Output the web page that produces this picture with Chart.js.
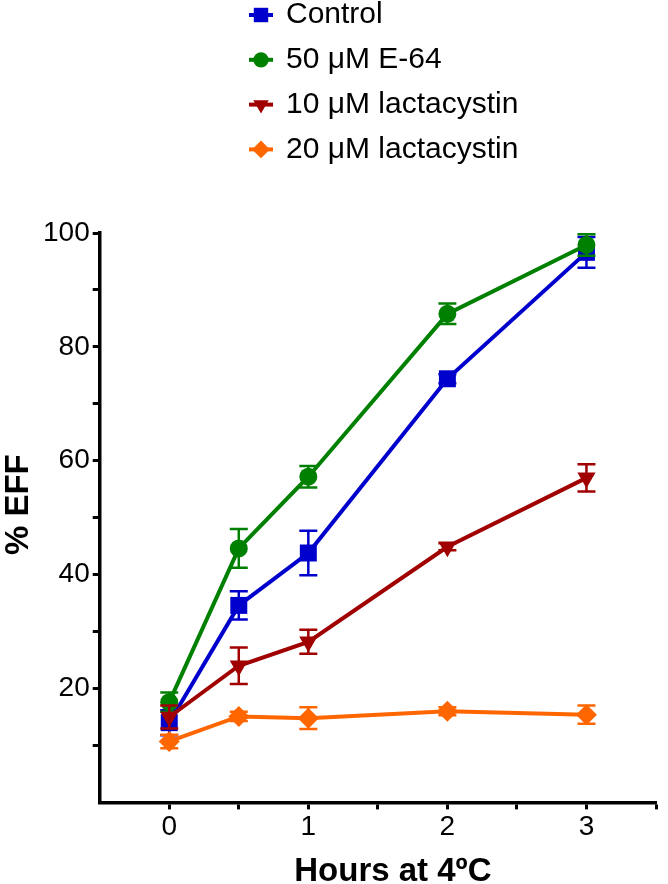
<!DOCTYPE html>
<html>
<head>
<meta charset="utf-8">
<title>% EFF vs hours at 4ºC</title>
<script src="https://cdn.jsdelivr.net/npm/chart.js"></script>
<style>
  html, body { margin: 0; padding: 0; background: #fff; }
  #wrap { position: relative; width: 668px; height: 884px; }
</style>
</head>
<body>
<div id="wrap"><canvas id="chart"></canvas></div>
<script>
// values (mean ± error)
const hours = [0, 0.5, 1, 2, 3];

const seriesNames = ['Control', '50 μM E-64', '10 μM lactacystin', '20 μM lactacystin'];

const control    = [14.0, 34.6, 43.8, 74.4, 96.6];
const controlErr = [2.2, 2.5, 3.9, 0.8, 2.7];

const e64    = [17.6, 44.6, 57.2, 85.8, 97.9];
const e64Err = [1.7, 3.4, 1.9, 1.8, 1.9];

const lac10    = [15.0, 24.0, 28.2, 44.9, 57.0];
const lac10Err = [2.0, 3.2, 2.1, 0.6, 2.4];

const lac20    = [10.7, 15.1, 14.8, 16.0, 15.4];
const lac20Err = [1.2, 0.8, 1.9, 0.7, 1.6];

const xTicks = [0, 1, 2, 3];
const yTicks = [20, 40, 60, 80, 100];

const xTitle = 'Hours at 4ºC';
const yTitle = '% EFF';

const colors = ['#0000cc', '#008000', '#a00000', '#ff6600'];
const shapes = ['rect', 'circle', 'triangle', 'rectRot'];
const radii = [12, 9, 10.5, 10.5];
const rotations = [0, 0, 180, 0];

const values = [control, e64, lac10, lac20];
const errors = [controlErr, e64Err, lac10Err, lac20Err];

const FONT = '"Liberation Sans", Arial, Helvetica, sans-serif';

const datasets = values.map((vals, i) => ({
  label: seriesNames[i],
  data: hours.map((h, j) => ({ x: h, y: vals[j] })),
  borderColor: colors[i],
  backgroundColor: colors[i],
  borderWidth: 4,
  pointStyle: shapes[i],
  pointRadius: radii[i],
  pointRotation: rotations[i],
  pointBorderWidth: 0,
  pointHoverRadius: radii[i],
  tension: 0,
  clip: false,
  order: values.length - 1 - i   // later series drawn on top
}));

// error bars, drawn just before each dataset so layering follows the series
const errorBars = {
  id: 'errorBars',
  beforeDatasetDraw(chart, args) {
    const errs = errors[args.index];
    const ds = chart.data.datasets[args.index];
    const xs = chart.scales.x, ys = chart.scales.y;
    const ctx = chart.ctx;
    ctx.save();
    ctx.strokeStyle = ds.borderColor;
    ctx.lineWidth = 2.5;
    ds.data.forEach((p, j) => {
      const e = errs[j];
      if (!e) return;
      const px = xs.getPixelForValue(p.x);
      const top = ys.getPixelForValue(p.y + e);
      const bot = ys.getPixelForValue(p.y - e);
      ctx.beginPath();
      ctx.moveTo(px, top); ctx.lineTo(px, bot);
      ctx.moveTo(px - 9, top); ctx.lineTo(px + 9, top);
      ctx.moveTo(px - 9, bot); ctx.lineTo(px + 9, bot);
      ctx.stroke();
    });
    ctx.restore();
  }
};

// stacked legend above the plot, Prism style (line through marker)
const stackLegend = {
  id: 'stackLegend',
  afterDraw(chart) {
    const ctx = chart.ctx;
    ctx.save();
    chart.data.datasets.forEach((ds, i) => {
      const y = 15 + i * 44.8;
      ctx.strokeStyle = ds.borderColor;
      ctx.lineWidth = 4;
      ctx.beginPath();
      ctx.moveTo(249, y); ctx.lineTo(273, y);
      ctx.stroke();
      ctx.fillStyle = ds.backgroundColor;
      Chart.helpers.drawPoint(ctx, {
        pointStyle: ds.pointStyle,
        radius: ds.pointRadius * 0.85,
        rotation: ds.pointRotation,
        borderWidth: 0
      }, 261, y);
      ctx.fillStyle = '#000';
      ctx.font = '30px ' + FONT;
      ctx.textBaseline = 'middle';
      ctx.textAlign = 'left';
      ctx.fillText(ds.label, 286, y);
    });
    ctx.restore();
  }
};

// axis titles (placed a little off-centre, as in the original figure)
const axisTitles = {
  id: 'axisTitles',
  afterDraw(chart) {
    const ctx = chart.ctx;
    const a = chart.chartArea;
    ctx.save();
    ctx.fillStyle = '#000';
    ctx.font = 'bold 33px ' + FONT;
    ctx.textAlign = 'center';
    ctx.textBaseline = 'alphabetic';
    ctx.fillText(xTitle, (a.left + a.right) / 2 + 15, 881);
    ctx.translate(28, (a.top + a.bottom) / 2 - 13);
    ctx.rotate(-Math.PI / 2);
    ctx.fillText(yTitle, 0, 0);
    ctx.restore();
  }
};

new Chart(document.getElementById('chart'), {
  type: 'line',
  data: { datasets },
  plugins: [errorBars, stackLegend, axisTitles],
  options: {
    responsive: true,
    maintainAspectRatio: false,
    animation: false,
    devicePixelRatio: 1,
    layout: { padding: { top: 233, right: 2, bottom: 39, left: 40 } },
    plugins: { legend: { display: false }, tooltip: { enabled: false } },
    scales: {
      x: {
        type: 'linear',
        min: -0.5, max: 3.5,
        grid: {
          drawOnChartArea: false, drawTicks: true, tickLength: 7, tickWidth: 3,
          tickColor: c => (c.tick && c.tick.value < 0) ? 'rgba(0,0,0,0)' : '#000'
        },
        border: { display: true, color: '#000', width: 3.5 },
        ticks: {
          stepSize: 0.5, autoSkip: false, maxRotation: 0, padding: 1,
          color: '#000', font: { family: FONT, size: 28 },
          callback: v => xTicks.includes(v) ? String(v) : ''
        }
      },
      y: {
        min: 0, max: 100,
        grid: {
          drawOnChartArea: false, drawTicks: true, tickLength: 7, tickWidth: 3,
          tickColor: c => (c.tick && c.tick.value === 0) ? 'rgba(0,0,0,0)' : '#000'
        },
        border: { display: true, color: '#000', width: 3.5 },
        ticks: {
          stepSize: 10, autoSkip: false, padding: 3,
          color: '#000', font: { family: FONT, size: 28 },
          callback: v => yTicks.includes(v) ? String(v) : ''
        }
      }
    }
  }
});
</script>
</body>
</html>
